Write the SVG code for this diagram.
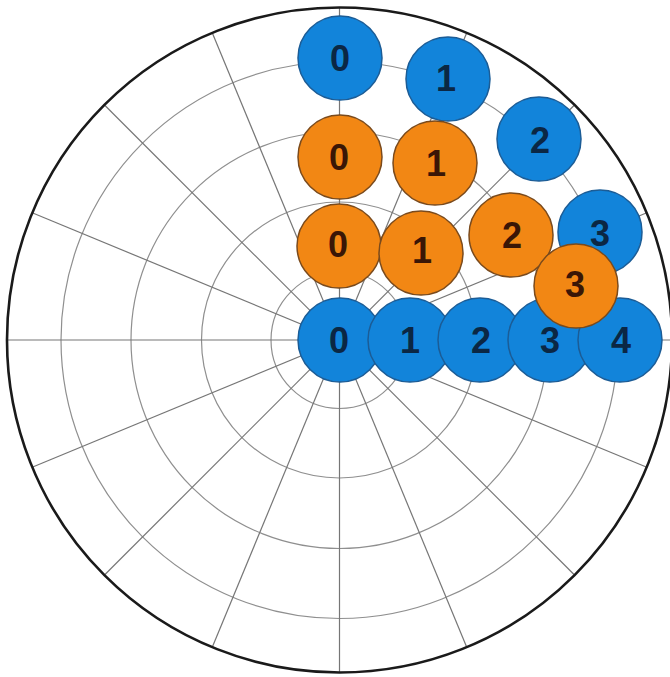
<svg xmlns="http://www.w3.org/2000/svg" width="670" height="677" viewBox="0 0 670 677">
<style>
.ring{fill:none;stroke:#8f8f8f;stroke-width:1.2}
.ray{stroke:#767676;stroke-width:1.2}
.outer{fill:none;stroke:#1a1a1a;stroke-width:2.6}
.b circle{fill:#1284DA;stroke:#1B5C96;stroke-width:1.5}
.o circle{fill:#F28714;stroke:#7A4A1C;stroke-width:1.5}
text{font-family:"Liberation Sans",Arial,sans-serif;font-weight:bold;font-size:36px;text-anchor:middle}
.b text{fill:#0B2744}
.o text{fill:#3A1606}
</style>
<rect width="670" height="677" fill="#ffffff"/>
<g id="grid">
<circle class="ring" cx="339.5" cy="340" r="68.5"/>
<circle class="ring" cx="339.5" cy="340" r="138"/>
<circle class="ring" cx="339.5" cy="340" r="208.5"/>
<circle class="ring" cx="339.5" cy="340" r="278.5"/>
<line class="ray" x1="7.5" y1="340" x2="671.5" y2="340"/>
<line class="ray" x1="646.23" y1="212.95" x2="32.77" y2="467.05"/>
<line class="ray" x1="574.26" y1="105.24" x2="104.74" y2="574.76"/>
<line class="ray" x1="466.55" y1="33.27" x2="212.45" y2="646.73"/>
<line class="ray" x1="339.5" y1="8" x2="339.5" y2="672"/>
<line class="ray" x1="212.45" y1="33.27" x2="466.55" y2="646.73"/>
<line class="ray" x1="104.74" y1="105.24" x2="574.26" y2="574.76"/>
<line class="ray" x1="32.77" y1="212.95" x2="646.23" y2="467.05"/>
<circle class="outer" cx="339.5" cy="340" r="332.5"/>
</g>
<g id="connectors"></g>
<g id="blue-top-0" class="b"><circle cx="340" cy="58" r="42"/><text x="340" y="71">0</text></g>
<g id="blue-top-1" class="b"><circle cx="448" cy="79" r="42"/><text x="446" y="91">1</text></g>
<g id="blue-top-2" class="b"><circle cx="539" cy="139" r="42"/><text x="540" y="153">2</text></g>
<g id="blue-top-3" class="b"><circle cx="600" cy="232" r="42"/><text x="600" y="246">3</text></g>
<g id="orange-a-0" class="o"><circle cx="340" cy="157" r="42"/><text x="339" y="170">0</text></g>
<g id="orange-a-1" class="o"><circle cx="435" cy="163" r="42"/><text x="436" y="176">1</text></g>
<g id="orange-b-0" class="o"><circle cx="339" cy="246" r="42"/><text x="338" y="257">0</text></g>
<g id="orange-b-1" class="o"><circle cx="421" cy="253" r="42"/><text x="422" y="263">1</text></g>
<g id="orange-b-2" class="o"><circle cx="511" cy="235" r="42"/><text x="512" y="248">2</text></g>
<g id="blue-row-0" class="b"><circle cx="340" cy="340" r="42"/><text x="339" y="353">0</text></g>
<g id="blue-row-1" class="b"><circle cx="410" cy="340" r="42"/><text x="410" y="353">1</text></g>
<g id="blue-row-2" class="b"><circle cx="480" cy="340" r="42"/><text x="481" y="353">2</text></g>
<g id="blue-row-3" class="b"><circle cx="550" cy="340" r="42"/><text x="550" y="353">3</text></g>
<g id="blue-row-4" class="b"><circle cx="620" cy="340" r="42"/><text x="621" y="353">4</text></g>
<g id="orange-b-3" class="o"><circle cx="576" cy="286" r="42"/><text x="575" y="297">3</text></g>
</svg>
